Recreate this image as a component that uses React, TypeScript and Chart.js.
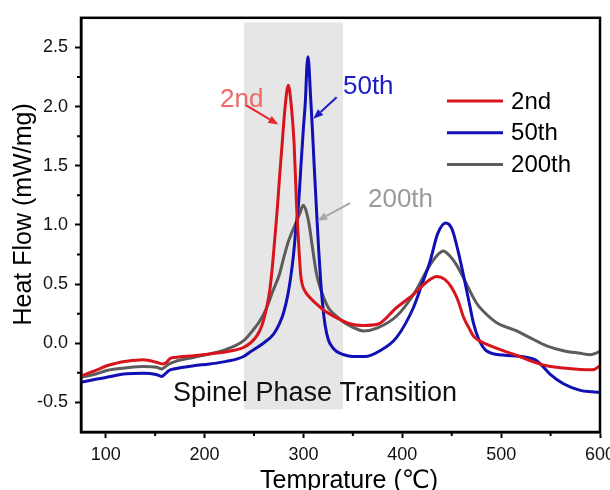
import React, { useEffect, useRef } from 'react';
import { Chart, registerables } from 'chart.js';

Chart.register(...registerables);

// ---- axes ----
const X_MIN = 75;
const X_MAX = 600;
const Y_MIN = -0.75;
const Y_MAX = 2.75;
const X_TICKS = [100, 200, 300, 400, 500, 600];
const X_MINOR = [150, 250, 350, 450, 550];
const Y_TICKS = [-0.5, 0, 0.5, 1.0, 1.5, 2.0, 2.5];
const Y_MINOR = [-0.25, 0.25, 0.75, 1.25, 1.75, 2.25];
const X_TITLE = 'Temprature (\u2103)';
const Y_TITLE = 'Heat Flow (mW/mg)';

// ---- series ----
const LABELS = ['2nd', '50th', '200th'];
const COLORS = ['#d8141c', '#1010b4', '#5c5c5c'];

const RED_X = [75, 90, 101, 110, 121, 138, 151, 157, 161, 165, 170, 189, 205, 222, 239, 246, 252.7, 258, 262.8, 266, 268.5, 271, 273.6, 276, 278.6, 281.5, 284.7, 287.8, 290.5, 293.2, 295.3, 297.2, 299, 301.6, 306, 313.4, 322, 333.6, 347, 360, 375, 394, 411, 425, 435, 443, 450, 456, 462, 468, 472, 478, 485, 502, 515, 529, 546, 563, 580, 593, 600];
const RED_Y = [-0.275, -0.23, -0.19, -0.17, -0.153, -0.14, -0.16, -0.175, -0.165, -0.13, -0.12, -0.105, -0.09, -0.072, -0.036, 0.0, 0.06, 0.15, 0.3, 0.45, 0.64, 0.88, 1.14, 1.42, 1.7, 2.0, 2.18, 2.0, 1.7, 1.14, 0.82, 0.58, 0.49, 0.44, 0.39, 0.33, 0.27, 0.215, 0.165, 0.15, 0.16, 0.3, 0.41, 0.52, 0.565, 0.54, 0.47, 0.37, 0.22, 0.12, 0.06, 0.02, -0.007, -0.063, -0.1, -0.147, -0.19, -0.21, -0.222, -0.225, -0.19];

const BLUE_X = [75, 90, 101, 121, 138, 151, 156.6, 160, 164, 170, 189, 205, 222, 239, 246, 259.4, 270, 276, 280, 284, 287, 290, 292.5, 295, 297.5, 300, 302, 303.5, 304.5, 305.5, 307, 309, 311, 313.4, 315.5, 317.5, 319.5, 322, 325.2, 329, 333.6, 340, 350, 362, 377.5, 394.3, 411.2, 420, 428, 436, 444, 450, 456.7, 463, 468, 472, 477, 485, 502, 522.5, 536, 549.4, 563, 580, 592, 600];
const BLUE_Y = [-0.33, -0.305, -0.287, -0.258, -0.253, -0.264, -0.28, -0.26, -0.23, -0.215, -0.19, -0.175, -0.153, -0.114, -0.075, 0.0, 0.08, 0.17, 0.26, 0.4, 0.55, 0.75, 0.98, 1.17, 1.5, 1.82, 2.05, 2.34, 2.42, 2.36, 2.12, 1.82, 1.48, 1.1, 0.78, 0.52, 0.32, 0.15, 0.03, -0.03, -0.07, -0.095, -0.112, -0.112, -0.063, 0.05, 0.3, 0.5, 0.69, 0.93, 1.017, 0.97, 0.77, 0.53, 0.33, 0.17, 0.04, -0.063, -0.1, -0.114, -0.147, -0.26, -0.342, -0.398, -0.41, -0.415];

const GREY_X = [75, 90, 101, 121, 138, 151.6, 156.6, 160, 164, 170, 188.6, 205.5, 222.4, 239.2, 251, 256, 262.8, 269, 275.6, 280, 284.7, 288, 291.5, 296, 299.9, 303, 305.9, 308.3, 313.4, 319, 325.2, 335.3, 344, 357, 361, 375, 394.3, 411.2, 428, 435, 441.4, 448, 455, 462, 468.5, 475, 482, 495.5, 515.7, 529, 546, 563, 580, 590, 600];
const GREY_Y = [-0.287, -0.26, -0.23, -0.208, -0.197, -0.203, -0.217, -0.2, -0.175, -0.155, -0.12, -0.09, -0.05, 0.02, 0.132, 0.19, 0.3, 0.44, 0.579, 0.72, 0.858, 0.93, 0.998, 1.09, 1.165, 1.11, 0.998, 0.858, 0.579, 0.42, 0.3, 0.215, 0.16, 0.11, 0.104, 0.13, 0.23, 0.41, 0.66, 0.74, 0.78, 0.74, 0.66, 0.55, 0.44, 0.34, 0.27, 0.174, 0.104, 0.048, -0.022, -0.063, -0.085, -0.097, -0.07];

// ---- annotations (data units) ----
const SHADE_X = [240, 340];
const SHADE_Y = [-0.56, 2.71];
const SHADE_LABEL = 'Spinel Phase Transition';
const SHADE_LABEL_AT = [168, -0.488];
const NOTE_TEXT = ['2nd', '50th', '200th'];
const NOTE_COLORS = ['#f06868', '#1c1cc8', '#9a9a9a'];
const NOTE_AT = [[215.6, 1.996], [340, 2.105], [365.3, 1.15]];
const ARROW_COLORS = ['#e8262a', '#1c1cc8', '#a8a8a8'];
const ARROW_FROM = [[242.6, 2.007], [333.6, 2.078], [347.1, 1.184]];
const ARROW_TO = [[274.6, 1.848], [310, 1.896], [314, 1.034]];
const LEGEND_X = [445.2, 501.9, 510];
const LEGEND_Y = [2.047, 1.779, 1.511];

const FONT = '"Liberation Sans", Arial, "DejaVu Sans", sans-serif';

function toPoints(xs: number[], ys: number[]) {
  return xs.map((x, i) => ({ x, y: ys[i] }));
}

function drawArrow(ctx: CanvasRenderingContext2D, x1: number, y1: number, x2: number, y2: number, color: string) {
  const ang = Math.atan2(y2 - y1, x2 - x1);
  const head = 10;
  const half = 4;
  const bx = x2 - head * Math.cos(ang);
  const by = y2 - head * Math.sin(ang);
  ctx.save();
  ctx.strokeStyle = color;
  ctx.fillStyle = color;
  ctx.lineWidth = 2;
  ctx.beginPath();
  ctx.moveTo(x1, y1);
  ctx.lineTo(bx, by);
  ctx.stroke();
  ctx.beginPath();
  ctx.moveTo(x2, y2);
  ctx.lineTo(bx + half * Math.sin(ang), by - half * Math.cos(ang));
  ctx.lineTo(bx - half * Math.sin(ang), by + half * Math.cos(ang));
  ctx.closePath();
  ctx.fill();
  ctx.restore();
}

const overlay = {
  id: 'overlay',
  beforeDatasetsDraw(chart: any) {
    const { ctx, scales } = chart;
    const x = scales.x;
    const y = scales.y;
    const l = x.getPixelForValue(SHADE_X[0]);
    const r = x.getPixelForValue(SHADE_X[1]);
    const t = y.getPixelForValue(SHADE_Y[1]);
    const b = y.getPixelForValue(SHADE_Y[0]);
    ctx.save();
    ctx.fillStyle = '#e6e6e6';
    ctx.fillRect(l, t, r - l, b - t);
    ctx.restore();
  },
  afterDraw(chart: any) {
    const { ctx, scales, chartArea } = chart;
    const x = scales.x;
    const y = scales.y;
    ctx.save();
    // frame
    ctx.strokeStyle = '#000';
    ctx.lineWidth = 2.5;
    ctx.strokeRect(chartArea.left, chartArea.top, chartArea.right - chartArea.left, chartArea.bottom - chartArea.top);
    // minor ticks
    ctx.lineWidth = 2;
    ctx.beginPath();
    X_MINOR.forEach((v) => {
      const px = x.getPixelForValue(v);
      ctx.moveTo(px, chartArea.bottom);
      ctx.lineTo(px, chartArea.bottom + 4);
    });
    Y_MINOR.forEach((v) => {
      const py = y.getPixelForValue(v);
      ctx.moveTo(chartArea.left, py);
      ctx.lineTo(chartArea.left - 4, py);
    });
    ctx.stroke();

    // shade label
    ctx.fillStyle = '#111';
    ctx.font = `27px ${FONT}`;
    ctx.textAlign = 'left';
    ctx.textBaseline = 'alphabetic';
    ctx.fillText(SHADE_LABEL, x.getPixelForValue(SHADE_LABEL_AT[0]), y.getPixelForValue(SHADE_LABEL_AT[1]));

    // notes and arrows
    ctx.font = `26px ${FONT}`;
    NOTE_TEXT.forEach((t, i) => {
      ctx.fillStyle = NOTE_COLORS[i];
      ctx.fillText(t, x.getPixelForValue(NOTE_AT[i][0]), y.getPixelForValue(NOTE_AT[i][1]));
      drawArrow(
        ctx,
        x.getPixelForValue(ARROW_FROM[i][0]),
        y.getPixelForValue(ARROW_FROM[i][1]),
        x.getPixelForValue(ARROW_TO[i][0]),
        y.getPixelForValue(ARROW_TO[i][1]),
        ARROW_COLORS[i]
      );
    });

    // legend
    ctx.font = `24px ${FONT}`;
    ctx.textBaseline = 'middle';
    chart.data.datasets.forEach((ds: any, i: number) => {
      const py = y.getPixelForValue(LEGEND_Y[i]);
      ctx.strokeStyle = ds.borderColor;
      ctx.lineWidth = 3;
      ctx.beginPath();
      ctx.moveTo(x.getPixelForValue(LEGEND_X[0]), py);
      ctx.lineTo(x.getPixelForValue(LEGEND_X[1]), py);
      ctx.stroke();
      ctx.fillStyle = '#000';
      ctx.fillText(ds.label, x.getPixelForValue(LEGEND_X[2]), py + 1);
    });

    // axis titles
    ctx.fillStyle = '#000';
    ctx.font = `25px ${FONT}`;
    ctx.textBaseline = 'alphabetic';
    ctx.textAlign = 'left';
    ctx.fillText(X_TITLE, chartArea.left + 179, chartArea.bottom + 56);
    ctx.save();
    ctx.translate(31, (chartArea.top + chartArea.bottom) / 2 - 10.5);
    ctx.rotate(-Math.PI / 2);
    ctx.textAlign = 'center';
    ctx.fillText(Y_TITLE, 0, 0);
    ctx.restore();

    ctx.restore();
  },
};

export default function App() {
  const ref = useRef<HTMLCanvasElement | null>(null);

  useEffect(() => {
    document.body.style.margin = '0';
    document.body.style.overflow = 'hidden';
    if (!ref.current) return;
    const series = [
      toPoints(RED_X, RED_Y),
      toPoints(BLUE_X, BLUE_Y),
      toPoints(GREY_X, GREY_Y),
    ];
    const chart = new Chart(ref.current, {
      type: 'line',
      data: {
        datasets: series.map((data, i) => ({
          label: LABELS[i],
          data,
          borderColor: COLORS[i],
          backgroundColor: COLORS[i],
          borderWidth: 3,
          pointRadius: 0,
          cubicInterpolationMode: 'monotone',
          fill: false,
        })),
      },
      options: {
        animation: false,
        responsive: false,
        maintainAspectRatio: false,
        events: [],
        layout: { padding: { left: 0, right: 40, top: 14, bottom: 0 } },
        plugins: {
          legend: { display: false },
          tooltip: { enabled: false },
          title: { display: false },
        },
        scales: {
          x: {
            type: 'linear',
            min: X_MIN,
            max: X_MAX,
            afterBuildTicks: (s: any) => {
              s.ticks = X_TICKS.map((v) => ({ value: v }));
            },
            afterFit: (s: any) => {
              s.height = 68;
            },
            ticks: {
              color: '#111',
              font: { family: FONT, size: 18 },
              padding: 6,
              maxRotation: 0,
              autoSkip: false,
              callback: (v: any) => String(v),
            },
            grid: {
              drawOnChartArea: false,
              drawTicks: true,
              tickLength: 6,
              tickWidth: 2,
              tickColor: '#000',
            },
            border: { display: true, color: '#000', width: 2.5 },
          },
          y: {
            type: 'linear',
            min: Y_MIN,
            max: Y_MAX,
            afterBuildTicks: (s: any) => {
              s.ticks = Y_TICKS.map((v) => ({ value: v }));
            },
            afterFit: (s: any) => {
              s.width = 81;
            },
            ticks: {
              color: '#111',
              font: { family: FONT, size: 18 },
              padding: 7,
              autoSkip: false,
              callback: (v: any) => Number(v).toFixed(1),
            },
            grid: {
              drawOnChartArea: false,
              drawTicks: true,
              tickLength: 6,
              tickWidth: 2,
              tickColor: '#000',
            },
            border: { display: true, color: '#000', width: 2.5 },
          },
        },
      },
      plugins: [overlay],
    });
    return () => chart.destroy();
  }, []);

  return (
    <div style={{ width: 610, height: 490, overflow: 'hidden', position: 'relative', background: '#fff' }}>
      <canvas ref={ref} width={640} height={500} style={{ display: 'block', width: 640, height: 500 }} />
    </div>
  );
}
